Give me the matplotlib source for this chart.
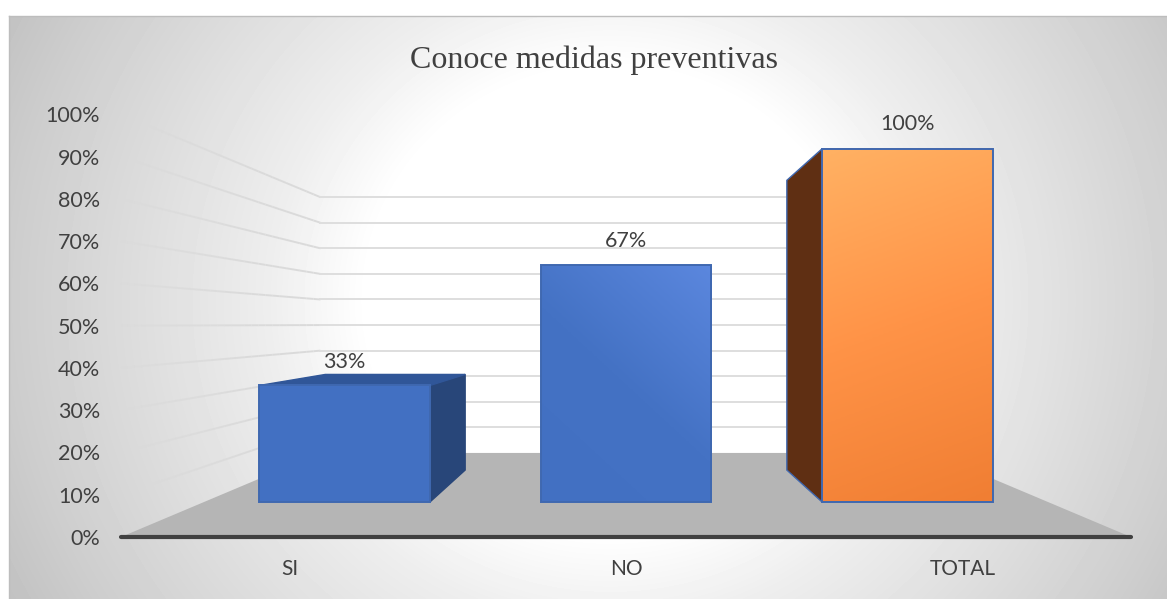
import numpy as np
import matplotlib
matplotlib.use("Agg")
import matplotlib.pyplot as plt
from matplotlib.patches import Polygon
from matplotlib.collections import LineCollection
from matplotlib.colors import LinearSegmentedColormap, to_rgb

categories = ["SI", "NO", "TOTAL"]
values = [0.33, 0.67, 1.00]
value_labels = ["33%", "67%", "100%"]
y_ticks = [0.0, 0.1, 0.2, 0.3, 0.4, 0.5, 0.6, 0.7, 0.8, 0.9, 1.0]
y_tick_labels = ["0%", "10%", "20%", "30%", "40%", "50%", "60%", "70%", "80%", "90%", "100%"]
title = "Conoce medidas preventivas"

W, H = 1167, 599
fig = plt.figure(figsize=(W / 100, H / 100), dpi=100, facecolor="white")

def px_axes(x0, y0, x1, y1):
    return [x0 / W, 1 - y1 / H, (x1 - x0) / W, (y1 - y0) / H]

# background panel with radial gradient
bg = fig.add_axes(px_axes(9, 16, W, H), zorder=0)
bg.set_axis_off()
yy, xx = np.mgrid[16:H, 9:W]
d = np.hypot(xx - 610, (yy - 300) * 1.05)
v = np.interp(d, [0, 250, 340, 600, 700], [255, 254, 238, 205, 190])
bg.imshow(v, cmap="gray", vmin=0, vmax=255, aspect="auto", interpolation="bilinear")
fig.add_artist(plt.Line2D([9 / W, 9 / W], [0, 1 - 16 / H], color="#BDBDBD", lw=1))
fig.add_artist(plt.Line2D([9 / W, 1], [1 - 16 / H, 1 - 16 / H], color="#BDBDBD", lw=1))

# main axes = front plane of the 3D box
ax = fig.add_axes(px_axes(121, 114.3, 1131, 537), zorder=1)
ax.set_xlim(-0.5, 2.5)
ax.set_ylim(0, 1)
ax.patch.set_alpha(0)
for s in ax.spines.values():
    s.set_visible(False)

VX, VY = 1.0, 0.5035      # vanishing point
S_BACK, S_BAR_F, S_BAR_B = 0.605, 0.8357, 0.6854
BAR_W = 0.606

def P(x, y, s):
    return (VX + (x - VX) * s, VY + (y - VY) * s)

def poly(pts, **kw):
    p = Polygon(pts, closed=True, clip_on=False, **kw)
    ax.add_patch(p)
    return p

# floor
poly([P(-0.5, 0, 1), P(-0.5, 0, S_BACK), P(2.5, 0, S_BACK), P(2.5, 0, 1)],
     facecolor="#B5B5B5", edgecolor="none", zorder=2)

# gridlines: fading left wall + back wall
GRID = "#DADADA"
for t in y_ticks[1:]:
    ss = np.linspace(1, S_BACK, 30)
    pts = np.array([P(-0.5, t, s) for s in ss])
    segs = np.stack([pts[:-1], pts[1:]], axis=1)
    alphas = np.interp(np.arange(len(segs)), [0, 3, 18, 29], [0.2, 0.55, 0.95, 1.0])
    cols = [(*to_rgb(GRID), a) for a in alphas]
    ax.add_collection(LineCollection(segs, colors=cols, linewidths=1.4, zorder=3,
                                     clip_on=False))
    ax.plot(*zip(P(-0.5, t, S_BACK), P(2.5, t, S_BACK)), color="#DEDEDE", lw=1.4,
            clip_on=False, zorder=3)

# axis line
ax.plot([-0.5, 2.5], [0, 0], color="#404040", lw=3, clip_on=False, zorder=8,
        solid_capstyle="round")

cm_blue = LinearSegmentedColormap.from_list("b", ["#4270C2", "#4472C4", "#5B87DE"])
cm_oran = LinearSegmentedColormap.from_list("o", ["#F07E33", "#FF9347", "#FFB163"])
styles = [
    dict(cmap=cm_blue, k=0.12, side="#284679", top="#305698"),
    dict(cmap=cm_blue, k=1.0, side="#284679", top="#305698"),
    dict(cmap=cm_oran, k=1.0, side="#5F2F13", top="#C55A11"),
]
EDGE = "#3F68B0"

for i, (val, st) in enumerate(zip(values, styles)):
    xl, xr = i - BAR_W / 2, i + BAR_W / 2
    # side faces
    if xr < VX:
        poly([P(xr, 0, S_BAR_F), P(xr, 0, S_BAR_B), P(xr, val, S_BAR_B), P(xr, val, S_BAR_F)],
             facecolor=st["side"], edgecolor=st["side"], lw=1, zorder=4)
    if xl > VX:
        poly([P(xl, 0, S_BAR_F), P(xl, 0, S_BAR_B), P(xl, val, S_BAR_B), P(xl, val, S_BAR_F)],
             facecolor=st["side"], edgecolor=EDGE, lw=1, zorder=4)
    # top face
    if val < VY:
        poly([P(xl, val, S_BAR_F), P(xl, val, S_BAR_B), P(xr, val, S_BAR_B), P(xr, val, S_BAR_F)],
             facecolor=st["top"], edgecolor=st["top"], lw=1, zorder=4)
    # front face with gradient
    (x0, y0), (x1, y1) = P(xl, 0, S_BAR_F), P(xr, val, S_BAR_F)
    gy, gx = np.mgrid[0:1:100j, 0:1:100j]
    if i == 2:
        g = gy * 0.85 + (1 - gx) * 0.15   # lightest at top-left
    else:
        g = (gy * 0.6 + gx * 0.4) * st["k"]
    ax.imshow(g, origin="lower", extent=(x0, x1, y0, y1), cmap=st["cmap"],
              vmin=0, vmax=1, aspect="auto", zorder=5, clip_on=False,
              interpolation="bilinear")
    poly([(x0, y0), (x1, y0), (x1, y1), (x0, y1)], facecolor="none",
         edgecolor=EDGE, lw=1.4, zorder=6)
    # value label, centred on the projected bar
    lx = P(i, val, S_BAR_F)[0]
    if val < VY:
        ly = P(i, val, S_BAR_B)[1] + 0.005
    else:
        ly = y1 + 0.034
    ax.text(lx, ly, value_labels[i], ha="center", va="bottom", fontsize=15.5,
            family="Lato", color="#404040", zorder=7, clip_on=False)

ax.set_xlim(-0.5, 2.5)
ax.set_ylim(0, 1)
ax.set_aspect("auto")
ax.set_xticks(range(len(categories)))
ax.set_xticklabels(categories, fontsize=15, family="Lato", color="#404040")
ax.set_yticks(y_ticks)
ax.set_yticklabels(y_tick_labels, fontsize=15.5, family="Lato", color="#404040")
ax.tick_params(axis="x", length=0, pad=16)
ax.tick_params(axis="y", length=0, pad=15)

fig.text(593.5 / W, 1 - 60 / H, title, ha="center", va="center", fontsize=23,
         family="Liberation Serif", color="#404040")

fig.savefig("out.png", dpi=100)
